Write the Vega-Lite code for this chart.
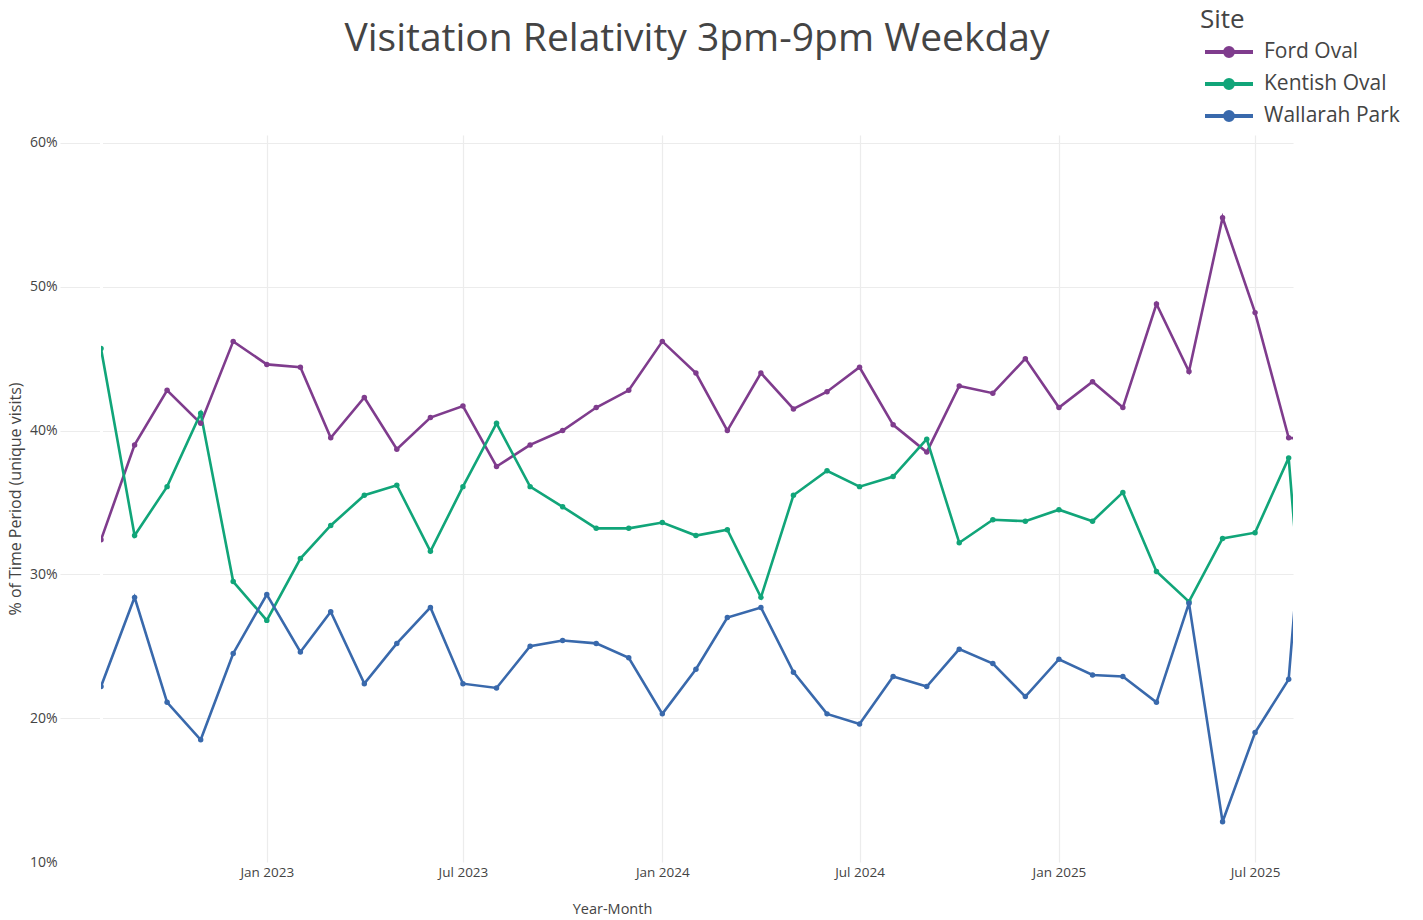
{
  "$schema": "https://vega.github.io/schema/vega-lite/v6.json",
  "width": 1192,
  "height": 727,
  "autosize": {"type": "none"},
  "padding": {"left": 101, "top": 135, "right": 130, "bottom": 58},
  "background": "white",
  "config": {"view": {"stroke": null}, "font": "Open Sans"},
  "title": {"text": "Visitation Relativity 3pm-9pm Weekday", "fontSize": 39, "font": "Open Sans", "fontWeight": "normal", "color": "#444444", "anchor": "middle", "frame": "group", "baseline": "alphabetic", "offset": -83},
  "data": {"values": [
    {"month": "2022-08-01", "site": "Ford Oval", "v": 32.4},
    {"month": "2022-09-01", "site": "Ford Oval", "v": 39.0},
    {"month": "2022-10-01", "site": "Ford Oval", "v": 42.8},
    {"month": "2022-11-01", "site": "Ford Oval", "v": 40.5},
    {"month": "2022-12-01", "site": "Ford Oval", "v": 46.2},
    {"month": "2023-01-01", "site": "Ford Oval", "v": 44.6},
    {"month": "2023-02-01", "site": "Ford Oval", "v": 44.4},
    {"month": "2023-03-01", "site": "Ford Oval", "v": 39.5},
    {"month": "2023-04-01", "site": "Ford Oval", "v": 42.3},
    {"month": "2023-05-01", "site": "Ford Oval", "v": 38.7},
    {"month": "2023-06-01", "site": "Ford Oval", "v": 40.9},
    {"month": "2023-07-01", "site": "Ford Oval", "v": 41.7},
    {"month": "2023-08-01", "site": "Ford Oval", "v": 37.5},
    {"month": "2023-09-01", "site": "Ford Oval", "v": 39.0},
    {"month": "2023-10-01", "site": "Ford Oval", "v": 40.0},
    {"month": "2023-11-01", "site": "Ford Oval", "v": 41.6},
    {"month": "2023-12-01", "site": "Ford Oval", "v": 42.8},
    {"month": "2024-01-01", "site": "Ford Oval", "v": 46.2},
    {"month": "2024-02-01", "site": "Ford Oval", "v": 44.0},
    {"month": "2024-03-01", "site": "Ford Oval", "v": 40.0},
    {"month": "2024-04-01", "site": "Ford Oval", "v": 44.0},
    {"month": "2024-05-01", "site": "Ford Oval", "v": 41.5},
    {"month": "2024-06-01", "site": "Ford Oval", "v": 42.7},
    {"month": "2024-07-01", "site": "Ford Oval", "v": 44.4},
    {"month": "2024-08-01", "site": "Ford Oval", "v": 40.4},
    {"month": "2024-09-01", "site": "Ford Oval", "v": 38.5},
    {"month": "2024-10-01", "site": "Ford Oval", "v": 43.1},
    {"month": "2024-11-01", "site": "Ford Oval", "v": 42.6},
    {"month": "2024-12-01", "site": "Ford Oval", "v": 45.0},
    {"month": "2025-01-01", "site": "Ford Oval", "v": 41.6},
    {"month": "2025-02-01", "site": "Ford Oval", "v": 43.4},
    {"month": "2025-03-01", "site": "Ford Oval", "v": 41.6},
    {"month": "2025-04-01", "site": "Ford Oval", "v": 48.8},
    {"month": "2025-05-01", "site": "Ford Oval", "v": 44.1},
    {"month": "2025-06-01", "site": "Ford Oval", "v": 54.8},
    {"month": "2025-07-01", "site": "Ford Oval", "v": 48.2},
    {"month": "2025-08-01", "site": "Ford Oval", "v": 39.5},
    {"month": "2025-09-01", "site": "Ford Oval", "v": 39.3},
    {"month": "2022-08-01", "site": "Kentish Oval", "v": 45.7},
    {"month": "2022-09-01", "site": "Kentish Oval", "v": 32.7},
    {"month": "2022-10-01", "site": "Kentish Oval", "v": 36.1},
    {"month": "2022-11-01", "site": "Kentish Oval", "v": 41.2},
    {"month": "2022-12-01", "site": "Kentish Oval", "v": 29.5},
    {"month": "2023-01-01", "site": "Kentish Oval", "v": 26.8},
    {"month": "2023-02-01", "site": "Kentish Oval", "v": 31.1},
    {"month": "2023-03-01", "site": "Kentish Oval", "v": 33.4},
    {"month": "2023-04-01", "site": "Kentish Oval", "v": 35.5},
    {"month": "2023-05-01", "site": "Kentish Oval", "v": 36.2},
    {"month": "2023-06-01", "site": "Kentish Oval", "v": 31.6},
    {"month": "2023-07-01", "site": "Kentish Oval", "v": 36.1},
    {"month": "2023-08-01", "site": "Kentish Oval", "v": 40.5},
    {"month": "2023-09-01", "site": "Kentish Oval", "v": 36.1},
    {"month": "2023-10-01", "site": "Kentish Oval", "v": 34.7},
    {"month": "2023-11-01", "site": "Kentish Oval", "v": 33.2},
    {"month": "2023-12-01", "site": "Kentish Oval", "v": 33.2},
    {"month": "2024-01-01", "site": "Kentish Oval", "v": 33.6},
    {"month": "2024-02-01", "site": "Kentish Oval", "v": 32.7},
    {"month": "2024-03-01", "site": "Kentish Oval", "v": 33.1},
    {"month": "2024-04-01", "site": "Kentish Oval", "v": 28.4},
    {"month": "2024-05-01", "site": "Kentish Oval", "v": 35.5},
    {"month": "2024-06-01", "site": "Kentish Oval", "v": 37.2},
    {"month": "2024-07-01", "site": "Kentish Oval", "v": 36.1},
    {"month": "2024-08-01", "site": "Kentish Oval", "v": 36.8},
    {"month": "2024-09-01", "site": "Kentish Oval", "v": 39.4},
    {"month": "2024-10-01", "site": "Kentish Oval", "v": 32.2},
    {"month": "2024-11-01", "site": "Kentish Oval", "v": 33.8},
    {"month": "2024-12-01", "site": "Kentish Oval", "v": 33.7},
    {"month": "2025-01-01", "site": "Kentish Oval", "v": 34.5},
    {"month": "2025-02-01", "site": "Kentish Oval", "v": 33.7},
    {"month": "2025-03-01", "site": "Kentish Oval", "v": 35.7},
    {"month": "2025-04-01", "site": "Kentish Oval", "v": 30.2},
    {"month": "2025-05-01", "site": "Kentish Oval", "v": 28.1},
    {"month": "2025-06-01", "site": "Kentish Oval", "v": 32.5},
    {"month": "2025-07-01", "site": "Kentish Oval", "v": 32.9},
    {"month": "2025-08-01", "site": "Kentish Oval", "v": 38.1},
    {"month": "2025-09-01", "site": "Kentish Oval", "v": 9.5},
    {"month": "2022-08-01", "site": "Wallarah Park", "v": 22.2},
    {"month": "2022-09-01", "site": "Wallarah Park", "v": 28.4},
    {"month": "2022-10-01", "site": "Wallarah Park", "v": 21.1},
    {"month": "2022-11-01", "site": "Wallarah Park", "v": 18.5},
    {"month": "2022-12-01", "site": "Wallarah Park", "v": 24.5},
    {"month": "2023-01-01", "site": "Wallarah Park", "v": 28.6},
    {"month": "2023-02-01", "site": "Wallarah Park", "v": 24.6},
    {"month": "2023-03-01", "site": "Wallarah Park", "v": 27.4},
    {"month": "2023-04-01", "site": "Wallarah Park", "v": 22.4},
    {"month": "2023-05-01", "site": "Wallarah Park", "v": 25.2},
    {"month": "2023-06-01", "site": "Wallarah Park", "v": 27.7},
    {"month": "2023-07-01", "site": "Wallarah Park", "v": 22.4},
    {"month": "2023-08-01", "site": "Wallarah Park", "v": 22.1},
    {"month": "2023-09-01", "site": "Wallarah Park", "v": 25.0},
    {"month": "2023-10-01", "site": "Wallarah Park", "v": 25.4},
    {"month": "2023-11-01", "site": "Wallarah Park", "v": 25.2},
    {"month": "2023-12-01", "site": "Wallarah Park", "v": 24.2},
    {"month": "2024-01-01", "site": "Wallarah Park", "v": 20.3},
    {"month": "2024-02-01", "site": "Wallarah Park", "v": 23.4},
    {"month": "2024-03-01", "site": "Wallarah Park", "v": 27.0},
    {"month": "2024-04-01", "site": "Wallarah Park", "v": 27.7},
    {"month": "2024-05-01", "site": "Wallarah Park", "v": 23.2},
    {"month": "2024-06-01", "site": "Wallarah Park", "v": 20.3},
    {"month": "2024-07-01", "site": "Wallarah Park", "v": 19.6},
    {"month": "2024-08-01", "site": "Wallarah Park", "v": 22.9},
    {"month": "2024-09-01", "site": "Wallarah Park", "v": 22.2},
    {"month": "2024-10-01", "site": "Wallarah Park", "v": 24.8},
    {"month": "2024-11-01", "site": "Wallarah Park", "v": 23.8},
    {"month": "2024-12-01", "site": "Wallarah Park", "v": 21.5},
    {"month": "2025-01-01", "site": "Wallarah Park", "v": 24.1},
    {"month": "2025-02-01", "site": "Wallarah Park", "v": 23.0},
    {"month": "2025-03-01", "site": "Wallarah Park", "v": 22.9},
    {"month": "2025-04-01", "site": "Wallarah Park", "v": 21.1},
    {"month": "2025-05-01", "site": "Wallarah Park", "v": 28.0},
    {"month": "2025-06-01", "site": "Wallarah Park", "v": 12.8},
    {"month": "2025-07-01", "site": "Wallarah Park", "v": 19.0},
    {"month": "2025-08-01", "site": "Wallarah Park", "v": 22.7},
    {"month": "2025-09-01", "site": "Wallarah Park", "v": 51.2}
  ]},
  "encoding": {
    "x": {
      "field": "month", "type": "temporal",
      "scale": {"type": "utc", "domain": [{"year": 2022, "month": 8, "date": 1, "utc": true}, {"year": 2025, "month": 8, "date": 5, "utc": true}]},
      "axis": {
        "title": "Year-Month",
        "values": [
          {"year": 2023, "month": 1, "date": 1, "utc": true},
          {"year": 2023, "month": 7, "date": 1, "utc": true},
          {"year": 2024, "month": 1, "date": 1, "utc": true},
          {"year": 2024, "month": 7, "date": 1, "utc": true},
          {"year": 2025, "month": 1, "date": 1, "utc": true},
          {"year": 2025, "month": 7, "date": 1, "utc": true}
        ],
        "labelExpr": "utcFormat(datum.value, '%b %Y')",
        "labelFont": "Open Sans", "labelFontSize": 13.5, "labelColor": "#444444",
        "tickSize": 0, "labelPadding": 3, "domain": false,
        "gridColor": "#ececec", "gridWidth": 1.2,
        "titleFont": "Open Sans", "titleFontSize": 14.5, "titleFontWeight": "normal", "titleColor": "#444444",
        "titleX": 511, "titleY": 51, "titleBaseline": "alphabetic", "titleAlign": "center"
      }
    },
    "y": {
      "field": "v", "type": "quantitative",
      "scale": {"domain": [10, 60.55], "nice": false, "zero": false},
      "axis": {
        "title": "% of Time Period (unique visits)",
        "values": [10, 20, 30, 40, 50, 60],
        "labelExpr": "datum.value + '%'",
        "labelFont": "Open Sans", "labelFontSize": 14, "labelColor": "#444444", "labelPadding": 3,
        "tickSize": 41, "tickColor": "#ececec", "tickWidth": 1.2,
        "tickOpacity": {"condition": {"test": "datum.value <= 10", "value": 0}, "value": 1},
        "domain": true, "domainColor": "white", "domainWidth": 3,
        "gridColor": "#ececec", "gridWidth": 1.2,
        "gridOpacity": {"condition": {"test": "datum.value <= 10", "value": 0}, "value": 1},
        "titleFont": "Open Sans", "titleFontSize": 16, "titleFontWeight": "normal", "titleColor": "#444444",
        "titleX": -86, "titleBaseline": "middle"
      }
    },
    "color": {
      "field": "site", "type": "nominal",
      "scale": {"domain": ["Ford Oval", "Kentish Oval", "Wallarah Park"], "range": ["#7f3c8d", "#11a579", "#3969ac"]},
      "legend": {
        "title": "Site", "orient": "none", "legendX": 1099, "legendY": -128, "padding": 0,
        "titleFont": "Open Sans", "titleFontSize": 26, "titleFontWeight": "normal", "titleColor": "#444444", "titlePadding": 5,
        "labelFont": "Open Sans", "labelFontSize": 21, "labelColor": "#444444",
        "symbolType": "M-2,0H2M-0.33,0A0.33,0.33,0,1,1,0.33,0A0.33,0.33,0,1,1,-0.33,0Z",
        "symbolSize": 576, "symbolStrokeWidth": 4, "symbolOffset": 15, "labelOffset": 21, "rowPadding": 6,
        "encode": {"symbols": {"update": {"fill": {"scale": "color", "field": "value"}, "stroke": {"scale": "color", "field": "value"}, "opacity": {"value": 1}}}}
      }
    }
  },
  "layer": [
    {"mark": {"type": "line", "clip": true, "strokeWidth": 2.6}},
    {"mark": {"type": "circle", "clip": true, "size": 30, "opacity": 1}}
  ]
}
